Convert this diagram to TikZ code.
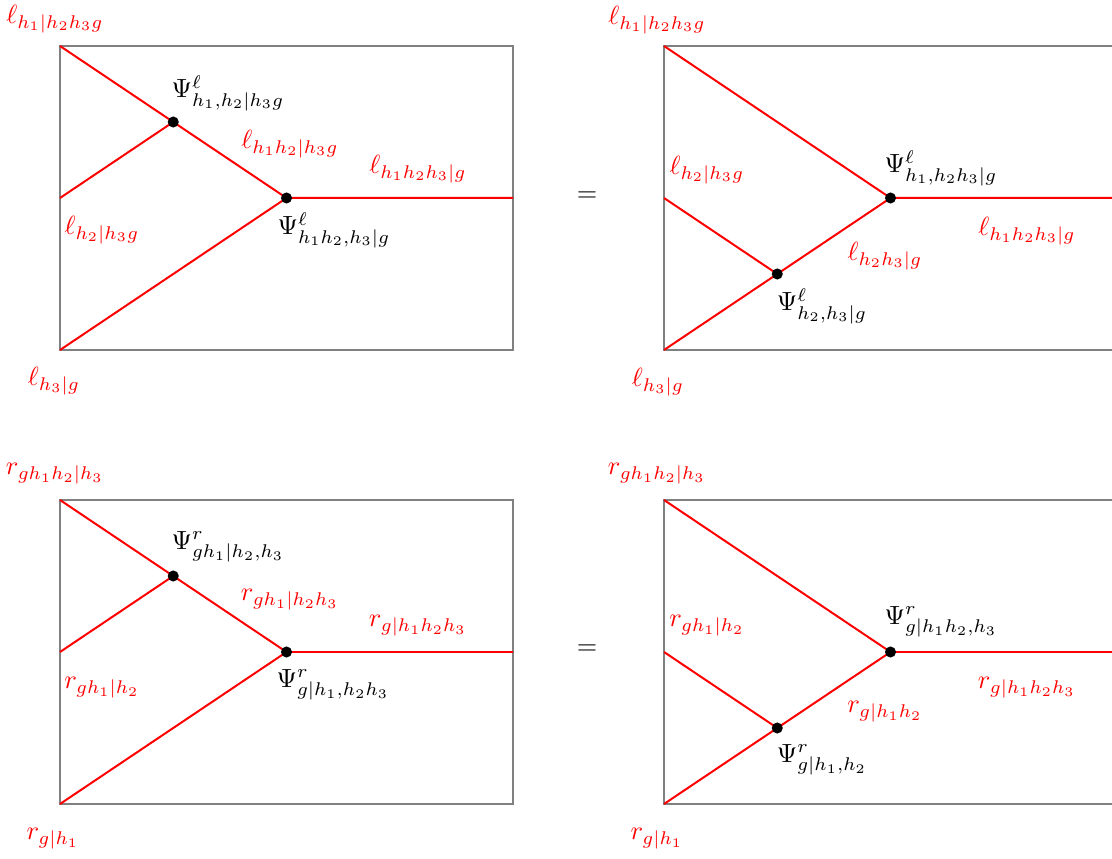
\documentclass[tikz,border=0pt]{standalone}
\newcommand{\mylbl}[1]{\scalebox{1.19}{$#1$}}
\begin{document}
\begin{tikzpicture}[x=0.4525pt,y=-0.4525pt,
  frame/.style={draw=gray, line width=0.9pt},
  wire/.style={draw=red, line width=0.9pt},
  dot/.style={circle, fill=black, inner sep=0pt, minimum size=5pt},
  rlab/.style={text=red, inner sep=0pt},
  blab/.style={text=black, inner sep=0pt}]
\useasboundingbox (0,0) rectangle (1112,859);

% ---------- Panel A (top left) ----------
\coordinate (A-tl) at (60,46);
\coordinate (A-br) at (513,350);
\coordinate (A-ml) at (60,198);
\coordinate (A-bl) at (60,350);
\coordinate (A-mr) at (513,198);
\coordinate (A-v1) at (173.25,122);
\coordinate (A-v2) at (286.5,198);
\draw[frame] (A-tl) rectangle (A-br);
\draw[wire] (A-tl) -- (A-v1) -- (A-v2) -- (A-mr);
\draw[wire] (A-ml) -- (A-v1);
\draw[wire] (A-bl) -- (A-v2);
\node[dot] (A-d1) at (A-v1) {};
\node[dot] (A-d2) at (A-v2) {};
\node[rlab] (A-l1) at (55,19) {\mylbl{\ell_{h_1|h_2h_3g}}};
\node[blab] (A-p1) at (228,93) {\mylbl{\Psi^{\ell}_{h_1,h_2|h_3g}}};
\node[rlab] (A-l2) at (290,144) {\mylbl{\ell_{h_1h_2|h_3g}}};
\node[rlab] (A-l3) at (418,169) {\mylbl{\ell_{h_1h_2h_3|g}}};
\node[rlab] (A-l4) at (102,230) {\mylbl{\ell_{h_2|h_3g}}};
\node[blab] (A-p2) at (334,230) {\mylbl{\Psi^{\ell}_{h_1h_2,h_3|g}}};
\node[rlab] (A-l5) at (54,381) {\mylbl{\ell_{h_3|g}}};

% ---------- Panel B (top right) ----------
\coordinate (B-tl) at (664,46);
\coordinate (B-br) at (1117,350);
\coordinate (B-ml) at (664,198);
\coordinate (B-bl) at (664,350);
\coordinate (B-mr) at (1117,198);
\coordinate (B-v2) at (890.5,198);
\coordinate (B-v3) at (777.25,274);
\draw[frame] (B-tl) rectangle (B-br);
\draw[wire] (B-tl) -- (B-v2) -- (B-mr);
\draw[wire] (B-ml) -- (B-v3);
\draw[wire] (B-bl) -- (B-v3) -- (B-v2);
\node[dot] (B-d2) at (B-v2) {};
\node[dot] (B-d3) at (B-v3) {};
\node[blab] (B-eq) at (587,197) {\mylbl{=}};
\node[rlab] (B-l1) at (657,20) {\mylbl{\ell_{h_1|h_2h_3g}}};
\node[rlab] (B-l2) at (707,170) {\mylbl{\ell_{h_2|h_3g}}};
\node[blab] (B-p1) at (941,168) {\mylbl{\Psi^{\ell}_{h_1,h_2h_3|g}}};
\node[rlab] (B-l3) at (1027,231) {\mylbl{\ell_{h_1h_2h_3|g}}};
\node[rlab] (B-l4) at (885,256) {\mylbl{\ell_{h_2h_3|g}}};
\node[blab] (B-p2) at (822,306) {\mylbl{\Psi^{\ell}_{h_2,h_3|g}}};
\node[rlab] (B-l5) at (658,382) {\mylbl{\ell_{h_3|g}}};

% ---------- Panel C (bottom left) ----------
\coordinate (C-tl) at (60,500);
\coordinate (C-br) at (513,804);
\coordinate (C-ml) at (60,652);
\coordinate (C-bl) at (60,804);
\coordinate (C-mr) at (513,652);
\coordinate (C-v1) at (173.25,576);
\coordinate (C-v2) at (286.5,652);
\draw[frame] (C-tl) rectangle (C-br);
\draw[wire] (C-tl) -- (C-v1) -- (C-v2) -- (C-mr);
\draw[wire] (C-ml) -- (C-v1);
\draw[wire] (C-bl) -- (C-v2);
\node[dot] (C-d1) at (C-v1) {};
\node[dot] (C-d2) at (C-v2) {};
\node[rlab] (C-l1) at (55,474) {\mylbl{r_{gh_1h_2|h_3}}};
\node[blab] (C-p1) at (228,547) {\mylbl{\Psi^{r}_{gh_1|h_2,h_3}}};
\node[rlab] (C-l2) at (290,600) {\mylbl{r_{gh_1|h_2h_3}}};
\node[rlab] (C-l3) at (418,626) {\mylbl{r_{g|h_1h_2h_3}}};
\node[rlab] (C-l4) at (102,688) {\mylbl{r_{gh_1|h_2}}};
\node[blab] (C-p2) at (333,685) {\mylbl{\Psi^{r}_{g|h_1,h_2h_3}}};
\node[rlab] (C-l5) at (53,839) {\mylbl{r_{g|h_1}}};

% ---------- Panel D (bottom right) ----------
\coordinate (D-tl) at (664,500);
\coordinate (D-br) at (1117,804);
\coordinate (D-ml) at (664,652);
\coordinate (D-bl) at (664,804);
\coordinate (D-mr) at (1117,652);
\coordinate (D-v2) at (890.5,652);
\coordinate (D-v3) at (777.25,728);
\draw[frame] (D-tl) rectangle (D-br);
\draw[wire] (D-tl) -- (D-v2) -- (D-mr);
\draw[wire] (D-ml) -- (D-v3);
\draw[wire] (D-bl) -- (D-v3) -- (D-v2);
\node[dot] (D-d2) at (D-v2) {};
\node[dot] (D-d3) at (D-v3) {};
\node[blab] (D-eq) at (587,650) {\mylbl{=}};
\node[rlab] (D-l1) at (657,474) {\mylbl{r_{gh_1h_2|h_3}}};
\node[rlab] (D-l2) at (707,626) {\mylbl{r_{gh_1|h_2}}};
\node[blab] (D-p1) at (941,622) {\mylbl{\Psi^{r}_{g|h_1h_2,h_3}}};
\node[rlab] (D-l3) at (1027,688) {\mylbl{r_{g|h_1h_2h_3}}};
\node[rlab] (D-l4) at (885,712) {\mylbl{r_{g|h_1h_2}}};
\node[blab] (D-p2) at (822,760) {\mylbl{\Psi^{r}_{g|h_1,h_2}}};
\node[rlab] (D-l5) at (657,839) {\mylbl{r_{g|h_1}}};
\end{tikzpicture}
\end{document}
